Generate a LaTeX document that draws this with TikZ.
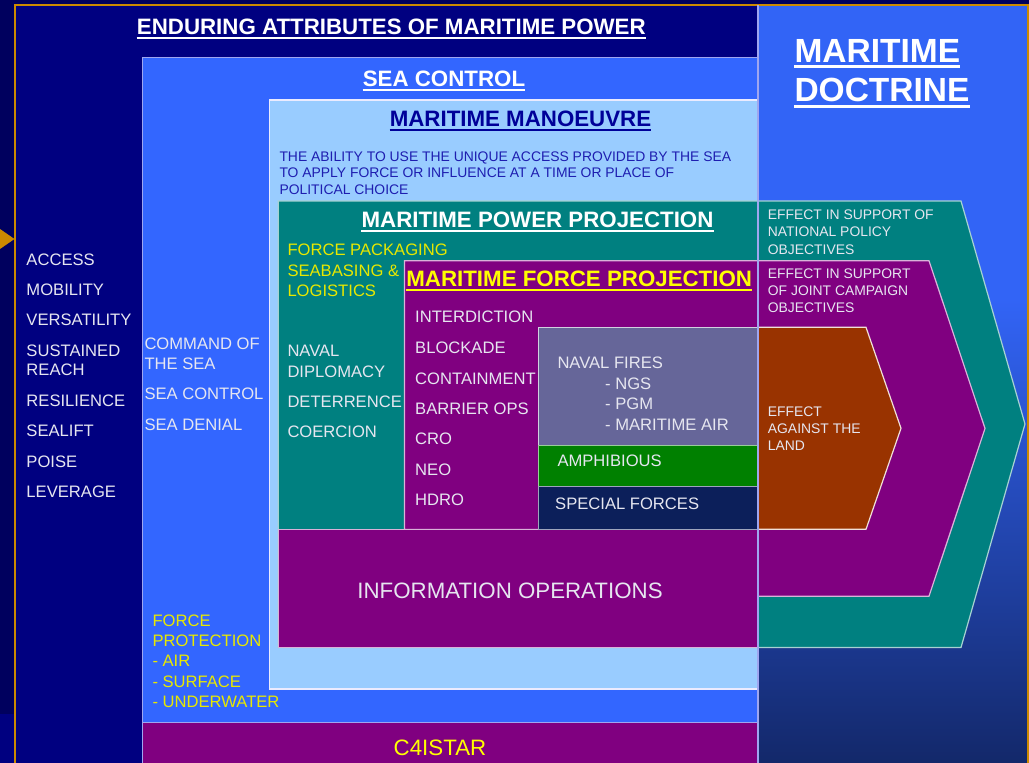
\documentclass[tikz,border=0pt]{standalone}
\usepackage{fontspec}
\setmainfont{Liberation Sans}
\definecolor{outerbg}{HTML}{00005E}
\definecolor{navyb}{HTML}{000080}
\definecolor{seablue}{HTML}{3366FF}
\definecolor{manblue}{HTML}{99CCFF}
\definecolor{tealc}{HTML}{008080}
\definecolor{purp}{HTML}{800080}
\definecolor{fires}{HTML}{666699}
\definecolor{amph}{HTML}{008000}
\definecolor{spec}{HTML}{0C1F5A}
\definecolor{brownc}{HTML}{993300}
\definecolor{orng}{HTML}{CC8A00}
\definecolor{lt}{HTML}{E6E6F0}
\definecolor{ylw}{HTML}{E8E800}
\definecolor{ytitle}{HTML}{FFFF00}
\definecolor{mantitle}{HTML}{000099}
\definecolor{mandesc}{HTML}{1E1EB0}
\definecolor{lav}{HTML}{9FA6F0}
\definecolor{docTop}{HTML}{3264F6}
\definecolor{docMid}{HTML}{2446B4}
\definecolor{docBot}{HTML}{13286A}
\begin{document}
\begin{tikzpicture}[x=1pt,y=-1pt,
  txt/.style={anchor=base west,inner sep=0pt,text=lt,font=\fontsize{16.6}{20}\selectfont},
  ytxt/.style={txt,text=ylw},
  sm/.style={anchor=base west,inner sep=0pt,text=lt,font=\fontsize{13.9}{17}\selectfont},
  ttl/.style={anchor=base,inner sep=0pt,text=white,font=\bfseries\fontsize{22.3}{26}\selectfont},
  big/.style={anchor=base,inner sep=0pt,text=lt,font=\fontsize{22.3}{26}\selectfont},
  uline/.style={line width=2pt},
  boxline/.style={line width=1.2pt}]
\useasboundingbox (0,0) rectangle (1029,763);
% background
\fill[outerbg] (0,0) rectangle (1029,763);
\fill[navyb] (0,714) rectangle (15,763);
% enduring attributes box
\fill[navyb] (15,5) rectangle (758,763);
% maritime doctrine panel
\fill[docTop] (758,5) rectangle (1027,300);
\shade[top color=docTop,middle color=docMid,bottom color=docBot] (758,299) rectangle (1027,763);
% orange frame
\draw[orng,line width=2pt] (15,763) -- (15,5) -- (1029,5);
\draw[orng,line width=2pt] (1028,5) -- (1028,763);
\fill[orng] (0,229) -- (14.5,239) -- (0,249) -- cycle;
% sea control
\filldraw[fill=seablue,draw=lav,boxline] (142.7,57.7) rectangle (758,722.3);
% C4ISTAR
\filldraw[fill=purp,draw=lav,boxline] (142.7,722.3) rectangle (758,765);
% maritime manoeuvre
\filldraw[fill=manblue,draw=white!92!blue,boxline] (269.3,100) rectangle (758,689);
% maritime power projection (teal chevron)
\filldraw[fill=tealc,draw=white!65!teal,boxline] (278.3,201) -- (961,201) -- (1025,424) -- (961,647.5) -- (278.3,647.5) -- cycle;
% maritime force projection (purple chevron)
\filldraw[fill=purp,draw=white!70!purp,boxline] (404.5,260.7) -- (929,260.7) -- (985,428.4) -- (929,596.3) -- (758,596.3) -- (758,529.4) -- (404.5,529.4) -- cycle;
% information operations
\filldraw[fill=purp,draw=white!70!purp,boxline] (278.3,529.4) rectangle (758,647.7);
% naval fires, amphibious, special forces
\filldraw[fill=fires,draw=white!70!fires,boxline] (538.3,327.3) rectangle (758,445.7);
\filldraw[fill=amph,draw=white!60!amph,boxline] (538.3,445.7) rectangle (758,486.7);
\filldraw[fill=spec,draw=white!60!spec,boxline] (538.3,486.7) rectangle (758,529.4);
% effect against the land (brown chevron)
\filldraw[fill=brownc,draw=white!85!brownc,boxline] (758,327.3) -- (866,327.3) -- (901,428.3) -- (866,529.3) -- (758,529.3) -- cycle;
% dividing line
\draw[lav,boxline] (758,5) -- (758,763);

% titles
\node[ttl] (tEnd) at (391.3,34.3) {ENDURING ATTRIBUTES OF MARITIME POWER};
\draw[uline,white] ([yshift=-3.5pt]tEnd.base west) -- ([yshift=-3.5pt]tEnd.base east);
\node[ttl] (tSea) at (444,86) {SEA CONTROL};
\draw[uline,white] ([yshift=-3.5pt]tSea.base west) -- ([yshift=-3.5pt]tSea.base east);
\node[ttl,text=mantitle] (tMan) at (520.5,126.7) {MARITIME MANOEUVRE};
\draw[uline,mantitle] ([yshift=-3.5pt]tMan.base west) -- ([yshift=-3.5pt]tMan.base east);
\node[ttl] (tMPP) at (537.5,227.3) {MARITIME POWER PROJECTION};
\draw[uline,white] ([yshift=-3.5pt]tMPP.base west) -- ([yshift=-3.5pt]tMPP.base east);
\node[ttl,text=ytitle] (tMFP) at (579.2,286.7) {MARITIME FORCE PROJECTION};
\draw[uline,ytitle] ([yshift=-3pt]tMFP.base west) -- ([yshift=-3pt]tMFP.base east);
\node[anchor=base west,inner sep=0pt,text=white,font=\bfseries\fontsize{33.5}{40}\selectfont] (tDoc1) at (794.3,62.3) {MARITIME};
\draw[line width=3pt,white] ([yshift=-4.6pt]tDoc1.base west) -- ([yshift=-4.6pt]tDoc1.base east);
\node[anchor=base west,inner sep=0pt,text=white,font=\bfseries\fontsize{33.5}{40}\selectfont] (tDoc2) at (794.3,101.7) {DOCTRINE};
\draw[line width=3pt,white] ([yshift=-4.8pt]tDoc2.base west) -- ([yshift=-4.8pt]tDoc2.base east);

% enduring attributes list
\node[txt] (a1) at (26.3,265) {ACCESS};
\node[txt] (a2) at (26.3,295) {MOBILITY};
\node[txt] (a3) at (26.3,325) {VERSATILITY};
\node[txt] (a4) at (26.3,356) {SUSTAINED};
\node[txt] (a5) at (26.3,375.3) {REACH};
\node[txt] (a6) at (26.3,406) {RESILIENCE};
\node[txt] (a7) at (26.3,436.7) {SEALIFT};
\node[txt] (a8) at (26.3,467.3) {POISE};
\node[txt] (a9) at (26.3,497) {LEVERAGE};

% sea control list
\node[txt] (s1) at (144.3,349.3) {COMMAND OF};
\node[txt] (s2) at (144.3,369) {THE SEA};
\node[txt] (s3) at (144.3,399.3) {SEA CONTROL};
\node[txt] (s4) at (144.3,430) {SEA DENIAL};
\node[ytxt] (f1) at (152.3,626) {FORCE};
\node[ytxt] (f2) at (152.3,646.7) {PROTECTION};
\node[ytxt] (f3) at (152.3,666.7) {- AIR};
\node[ytxt] (f4) at (152.3,687) {- SURFACE};
\node[ytxt] (f5) at (152.3,707) {- UNDERWATER};

% manoeuvre description
\node[sm,text=mandesc] (d1) at (279.3,161) {THE ABILITY TO USE THE UNIQUE ACCESS PROVIDED BY THE SEA};
\node[sm,text=mandesc] (d2) at (279.3,177.7) {TO APPLY FORCE OR INFLUENCE AT A TIME OR PLACE OF};
\node[sm,text=mandesc] (d3) at (279.3,194.3) {POLITICAL CHOICE};

% power projection list
\node[ytxt] (p1) at (287.3,255.7) {FORCE PACKAGING};
\node[ytxt] (p2) at (287.3,276) {SEABASING \&};
\node[ytxt] (p3) at (287.3,296.7) {LOGISTICS};
\node[txt] (p4) at (287.3,356.7) {NAVAL};
\node[txt] (p5) at (287.3,377.3) {DIPLOMACY};
\node[txt] (p6) at (287.3,407.7) {DETERRENCE};
\node[txt] (p7) at (287.3,437.7) {COERCION};

% force projection list
\node[txt] (m1) at (415,322.7) {INTERDICTION};
\node[txt] (m2) at (415,353) {BLOCKADE};
\node[txt] (m3) at (415,384) {CONTAINMENT};
\node[txt] (m4) at (415,414) {BARRIER OPS};
\node[txt] (m5) at (415,444.5) {CRO};
\node[txt] (m6) at (415,475) {NEO};
\node[txt] (m7) at (415,505) {HDRO};

% naval fires etc.
\node[txt] (n1) at (557.3,368.3) {NAVAL FIRES};
\node[txt] (n2) at (605,389) {- NGS};
\node[txt] (n3) at (605,409.3) {- PGM};
\node[txt] (n4) at (605,430) {- MARITIME AIR};
\node[txt] (n5) at (557.3,466) {AMPHIBIOUS};
\node[txt] (n6) at (555,509) {SPECIAL FORCES};

% effects
\node[sm] (e1) at (767.7,219.3) {EFFECT IN SUPPORT OF};
\node[sm] (e2) at (767.7,236.7) {NATIONAL POLICY};
\node[sm] (e3) at (767.7,254) {OBJECTIVES};
\node[sm] (e4) at (767.7,278.3) {EFFECT IN SUPPORT};
\node[sm] (e5) at (767.7,295.7) {OF JOINT CAMPAIGN};
\node[sm] (e6) at (767.7,312.3) {OBJECTIVES};
\node[sm] (e7) at (767.7,416) {EFFECT};
\node[sm] (e8) at (767.7,433.3) {AGAINST THE};
\node[sm] (e9) at (767.7,450) {LAND};

% information operations and C4ISTAR
\node[big] (io) at (510,598.3) {INFORMATION OPERATIONS};
\node[big,text=ytitle] (c4) at (440,755) {C4ISTAR};
\end{tikzpicture}
\end{document}
